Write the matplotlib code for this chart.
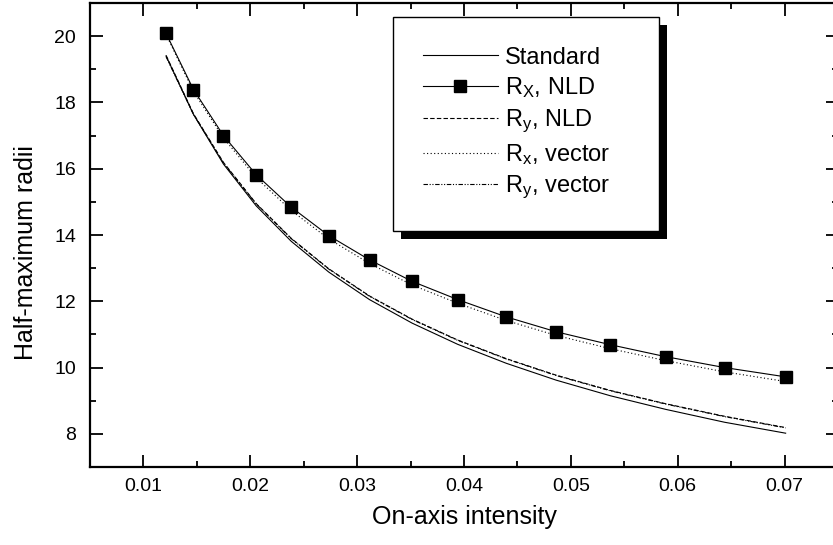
import matplotlib
matplotlib.use("Agg")
import matplotlib.pyplot as plt
from matplotlib.patches import Rectangle
from matplotlib.ticker import MultipleLocator
from matplotlib.font_manager import FontProperties

plt.rcParams['font.family'] = ['Liberation Sans', 'DejaVu Sans']
plt.rcParams['mathtext.fontset'] = 'custom'
plt.rcParams['mathtext.rm'] = 'Liberation Sans'
plt.rcParams['mathtext.it'] = 'Liberation Sans:italic'

# ---- data ----
intensity = [0.01212, 0.01468, 0.01749, 0.02055, 0.02383, 0.02735, 0.03116, 0.03515,
             0.03942, 0.04395, 0.04863, 0.05369, 0.05886, 0.06439, 0.07010]
standard = [19.40, 17.64, 16.14, 14.88, 13.81, 12.88, 12.05, 11.34,
            10.70, 10.13, 9.62, 9.15, 8.74, 8.35, 8.02]
rx_nld = [20.08, 18.39, 17.00, 15.82, 14.84, 13.98, 13.25, 12.60,
          12.05, 11.53, 11.08, 10.69, 10.33, 10.00, 9.72]
ry_nld = [19.42, 17.66, 16.19, 14.95, 13.90, 12.98, 12.16, 11.46,
          10.83, 10.27, 9.77, 9.31, 8.91, 8.53, 8.19]
rx_vector = [20.05, 18.33, 16.93, 15.73, 14.74, 13.88, 13.14, 12.49,
             11.94, 11.42, 10.97, 10.57, 10.21, 9.87, 9.58]
ry_vector = [19.38, 17.64, 16.17, 14.94, 13.89, 12.97, 12.15, 11.45,
             10.82, 10.26, 9.76, 9.30, 8.90, 8.52, 8.18]
labels = ['Standard', r'R$_{\mathrm{X}}$, NLD', r'R$_{\mathrm{y}}$, NLD',
          r'R$_{\mathrm{x}}$, vector', r'R$_{\mathrm{y}}$, vector']
x_ticks = [0.01, 0.02, 0.03, 0.04, 0.05, 0.06, 0.07]
x_ticklabels = ['0.01', '0.02', '0.03', '0.04', '0.05', '0.06', '0.07']
y_ticks = [8, 10, 12, 14, 16, 18, 20]

W, H = 833, 545
AX_L, AX_R, AX_T, AX_B = 90, 838, 3, 467
fig = plt.figure(figsize=(W / 100, H / 100), dpi=100)
ax = fig.add_axes([AX_L / W, (H - AX_B) / H, (AX_R - AX_L) / W, (AX_B - AX_T) / H])
aw, ah = AX_R - AX_L, AX_B - AX_T

lw = 0.8
ax.plot(intensity, standard, color='black', lw=lw, ls='-', label=labels[0])
ax.plot(intensity, rx_nld, color='black', lw=lw, ls='-', marker='s', ms=8.8,
        mfc='black', mec='black', label=labels[1], zorder=3)
ax.plot(intensity, ry_nld, color='black', lw=lw, ls=(0, (4, 2)), label=labels[2])
ax.plot(intensity, rx_vector, color='black', lw=lw, ls=(0, (1, 2.2)), label=labels[3])
ax.plot(intensity, ry_vector, color='black', lw=lw, ls=(0, (4, 1.5, 1, 1.5, 1, 1.5)),
        label=labels[4])

ax.set_xlim(0.005, 0.075)
ax.set_ylim(7, 21)
ax.set_xticks(x_ticks)
ax.set_xticklabels(x_ticklabels)
ax.set_yticks(y_ticks)
ax.xaxis.set_minor_locator(MultipleLocator(0.005))
ax.yaxis.set_minor_locator(MultipleLocator(1))

for s in ax.spines.values():
    s.set_linewidth(1.6)
ax.tick_params(which='both', direction='in', top=True, right=True, width=1.3,
               labelsize=14, colors='black')
ax.tick_params(which='major', length=9)
ax.tick_params(which='minor', length=4.5)
ax.tick_params(axis='x', pad=8)
ax.tick_params(axis='y', pad=10)

ax.set_xlabel('On-axis intensity', fontsize=18, labelpad=7)
ax.set_ylabel('Half-maximum radii', fontsize=18)
ax.yaxis.set_label_coords((38 - AX_L) / aw, (AX_B - 253) / ah)

lx, ly, lwid = (393 - AX_L) / aw, (AX_B - 17) / ah, (659 - 393) / aw
leg = ax.legend(loc='upper left', bbox_to_anchor=(lx, ly - 0.5, lwid, 0.5),
                bbox_transform=ax.transAxes, mode='expand', borderaxespad=0,
                frameon=True, fancybox=False, edgecolor='black', framealpha=1,
                borderpad=1.25, labelspacing=0.3, handlelength=3.2, handletextpad=0.3,
                numpoints=1, prop=FontProperties(family='Liberation Sans', size=17))
leg.get_frame().set_linewidth(1.0)

fig.canvas.draw()
bb = leg.get_frame().get_window_extent()
inv = ax.transAxes.inverted()
(x0, y0) = inv.transform((bb.x0 + 8, bb.y0 - 8))
(x1, y1) = inv.transform((bb.x1 + 8, bb.y1 - 8))
shadow = Rectangle((x0, y0), x1 - x0, y1 - y0, transform=ax.transAxes,
                   facecolor='black', edgecolor='none', zorder=leg.get_zorder() - 0.1,
                   clip_on=False)
ax.add_patch(shadow)

fig.savefig('out.png', dpi=100)
